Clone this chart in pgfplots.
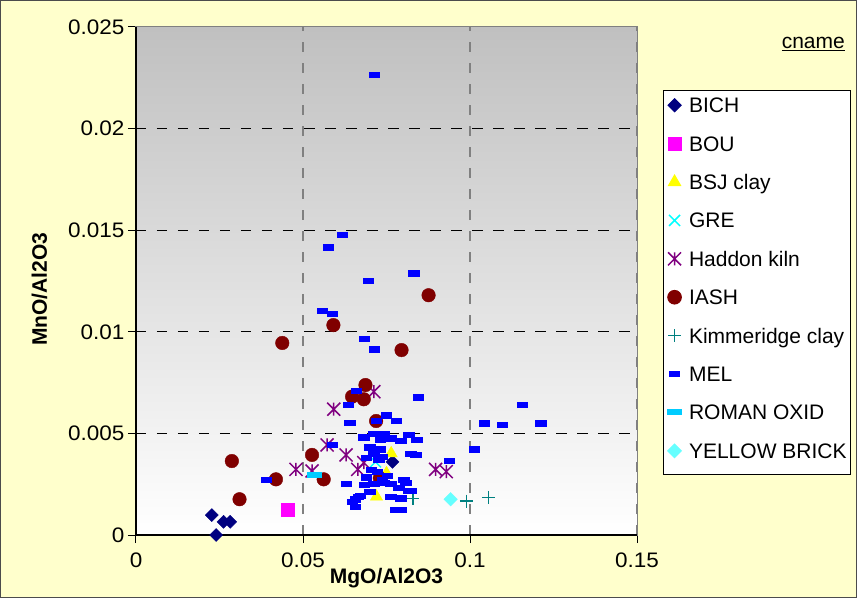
\documentclass[border=0pt]{standalone}
\usepackage{pgfplots}
\pgfplotsset{compat=1.18}
\usepackage{fontspec}
\setmainfont{Liberation Sans}
\newfontfamily\tickfont{Liberation Sans}[FakeStretch=1.07]
\definecolor{bg}{RGB}{255,255,204}
\definecolor{topgray}{RGB}{192,192,192}
\definecolor{bich}{RGB}{0,0,128}
\definecolor{bou}{RGB}{255,0,255}
\definecolor{bsj}{RGB}{255,255,0}
\definecolor{gre}{RGB}{0,255,255}
\definecolor{haddon}{RGB}{128,0,128}
\definecolor{iash}{RGB}{128,0,0}
\definecolor{kim}{RGB}{0,128,128}
\definecolor{mel}{RGB}{0,0,255}
\definecolor{roman}{RGB}{0,204,255}
\definecolor{ybrick}{RGB}{102,255,255}
\newcommand{\tf}{\fontsize{21bp}{25bp}\selectfont}
\pgfdeclareplotmark{xstar}{%
  \pgfpathmoveto{\pgfqpoint{-\pgfplotmarksize}{-\pgfplotmarksize}}%
  \pgfpathlineto{\pgfqpoint{\pgfplotmarksize}{\pgfplotmarksize}}%
  \pgfpathmoveto{\pgfqpoint{\pgfplotmarksize}{-\pgfplotmarksize}}%
  \pgfpathlineto{\pgfqpoint{-\pgfplotmarksize}{\pgfplotmarksize}}%
  \pgfpathmoveto{\pgfqpoint{0pt}{-\pgfplotmarksize}}%
  \pgfpathlineto{\pgfqpoint{0pt}{\pgfplotmarksize}}%
  \pgfusepathqstroke}
\pgfdeclareplotmark{bigx}{%
  \pgfpathmoveto{\pgfqpoint{-\pgfplotmarksize}{-\pgfplotmarksize}}%
  \pgfpathlineto{\pgfqpoint{\pgfplotmarksize}{\pgfplotmarksize}}%
  \pgfpathmoveto{\pgfqpoint{\pgfplotmarksize}{-\pgfplotmarksize}}%
  \pgfpathlineto{\pgfqpoint{-\pgfplotmarksize}{\pgfplotmarksize}}%
  \pgfusepathqstroke}
\pgfplotsset{lgd/.style={legend image code/.code={\draw[mark repeat=2,mark phase=2,##1] plot coordinates {(0cm,7.5bp) (0.3cm,7.5bp) (0.6cm,7.5bp)};}}}
\begin{document}
\begin{tikzpicture}
\fill[bg] (-136bp,-63bp) rectangle (721bp,535bp);
\draw[black!70,line width=1bp] (-135.5bp,-62.5bp) rectangle (720.5bp,534.5bp);
\begin{axis}[
  scale only axis, width=501bp, height=508bp,
  xmin=0, xmax=0.15, ymin=0, ymax=0.025,
  clip=false, scaled ticks=false,
  axis background/.style={top color=topgray, bottom color=white},
  axis line style={draw=gray, line width=1bp},
  xtick={0,0.05,0.1,0.15}, xticklabels={0,0.05,0.1,0.15},
  ytick={0,0.005,0.01,0.015,0.02,0.025},
  yticklabels={0,0.005,0.01,0.015,0.02,0.025},
  xtick pos=bottom, ytick pos=left,
  tick align=outside, major tick length=8bp,
  tick style={black, line width=1bp},
  ticklabel style={font=\tickfont\tf},
  xticklabel style={yshift=-6bp},
  grid=major,
  x grid style={gray, line width=1.6bp, dash pattern=on 10bp off 11bp},
  y grid style={black, line width=1bp, dash pattern=on 10.5bp off 10.5bp},
  xlabel={MgO/Al2O3}, ylabel={MnO/Al2O3},
  xlabel style={font=\tf\bfseries, at={(axis description cs:0.5,-0.0945)}, anchor=base},
  ylabel style={font=\tf\bfseries, at={(axis description cs:-0.178,0.484)}, anchor=base},
  legend style={at={(axis description cs:1.052,0.8765)}, anchor=north west,
    draw=black, fill=white, line width=1bp, font=\tf,
    inner xsep=4bp, inner ysep=0bp, row sep=0bp,
    nodes={inner sep=0pt, text height=22.5bp, text depth=15.9bp, anchor=base west},
    /tikz/every odd column/.append style={column sep=7.5bp},
    /tikz/every even column/.append style={column sep=5bp}},
  legend cell align=left,
]
\addplot[only marks, lgd, color=bich, mark=square*, mark size=4.6bp, mark options={rotate=45}]
  coordinates {(0.0227,0.00098) (0.0262,0.00065) (0.0282,0.00065) (0.0240,0.0000) (0.0768,0.0036)};
\addlegendentry{BICH}
\addplot[only marks, lgd, color=bou, mark=square*, mark size=6.5bp]
  coordinates {(0.0455,0.00126)};
\addlegendentry{BOU}
\addplot[only marks, lgd, color=bsj, mark=triangle*, mark size=7bp]
  coordinates {(0.0764,0.00402) (0.0750,0.00304) (0.0720,0.00189)};
\addlegendentry{BSJ clay}
\addplot[only marks, lgd, color=gre, mark=bigx, mark size=5.5bp, mark options={line width=1.5bp}]
  coordinates {(0.0717,0.0036)};
\addlegendentry{GRE}
\addplot[only marks, lgd, color=haddon, mark=xstar, mark size=6.5bp, mark options={line width=1.5bp}]
  coordinates {(0.0479,0.00323) (0.0527,0.00315) (0.0572,0.00443) (0.0712,0.00705)
    (0.0592,0.00619) (0.0629,0.00394) (0.0664,0.00323) (0.0682,0.00356)
    (0.0897,0.00323) (0.0929,0.00312)};
\addlegendentry{Haddon kiln}
\addplot[only marks, lgd, color=iash, mark=*, mark size=6.8bp]
  coordinates {(0.0876,0.0118) (0.0591,0.01033) (0.0438,0.00945) (0.0795,0.0091)
    (0.0687,0.00738) (0.0647,0.00681) (0.0682,0.00668) (0.0719,0.00561)
    (0.0527,0.00394) (0.0562,0.00274) (0.0730,0.00279) (0.0287,0.00364)
    (0.0310,0.00176) (0.0419,0.00274)};
\addlegendentry{IASH}
\addplot[only marks, lgd, color=kim, mark=+, mark size=6.5bp, mark options={line width=1.5bp}]
  coordinates {(0.0829,0.0018) (0.0989,0.00167) (0.1055,0.00185)};
\addlegendentry{Kimmeridge clay}
\addplot[only marks, lgd, color=mel, mark=square*, mark size=2.6bp, mark options={xscale=2}]
  coordinates {(0.0713,0.02264) (0.0617,0.01476) (0.0575,0.01416) (0.0832,0.01288)
    (0.0695,0.0125) (0.0557,0.01102) (0.0587,0.01091) (0.0683,0.00965)
    (0.0713,0.00914) (0.0845,0.00678) (0.1157,0.0064) (0.1043,0.0055)
    (0.1097,0.00541) (0.1212,0.0055) (0.1013,0.00422) (0.0937,0.00364)
    (0.0822,0.00217) (0.0390,0.00274) (0.0660,0.00709) (0.0635,0.0064)
    (0.0749,0.0059) (0.0779,0.00561) (0.0640,0.00553) (0.0719,0.00561)
    (0.0587,0.00443) (0.0712,0.0050) (0.0742,0.0050) (0.0682,0.00481)
    (0.0732,0.00471) (0.0762,0.00476) (0.0792,0.00463) (0.0817,0.00492)
    (0.0840,0.00468) (0.0700,0.00432) (0.0732,0.00422) (0.0712,0.00399)
    (0.0737,0.00385) (0.0690,0.00382) (0.0727,0.00373) (0.0822,0.00402)
    (0.0837,0.00394) (0.0704,0.00323) (0.0722,0.00312) (0.0690,0.00284)
    (0.0752,0.0029) (0.0737,0.00274) (0.0802,0.00274) (0.0807,0.00257)
    (0.0630,0.00254) (0.0684,0.00246) (0.0712,0.00251) (0.0742,0.00257)
    (0.0762,0.00251) (0.0787,0.00233) (0.0817,0.00218) (0.0700,0.00213)
    (0.0672,0.00192) (0.0657,0.00176) (0.0647,0.00164) (0.0657,0.00139)
    (0.0762,0.00188) (0.0792,0.00181) (0.0777,0.00126) (0.0792,0.00126)
    (0.0666,0.00187)};
\addlegendentry{MEL}
\addplot[only marks, lgd, color=roman, mark=square*, mark size=2.5bp, mark options={xscale=2.8}]
  coordinates {(0.0535,0.00295)};
\addlegendentry{ROMAN OXID}
\addplot[only marks, lgd, color=ybrick, mark=square*, mark size=4.8bp, mark options={rotate=45}]
  coordinates {(0.0942,0.00176)};
\addlegendentry{YELLOW BRICK}
\draw[black, line width=1.5bp] (rel axis cs:0,1) -- (rel axis cs:0,0) -- (rel axis cs:1,0);
\end{axis}
\node[anchor=base east, font=\tf, inner sep=0pt] at (709bp,486.7bp) {\underline{cname}};
\end{tikzpicture}
\end{document}
